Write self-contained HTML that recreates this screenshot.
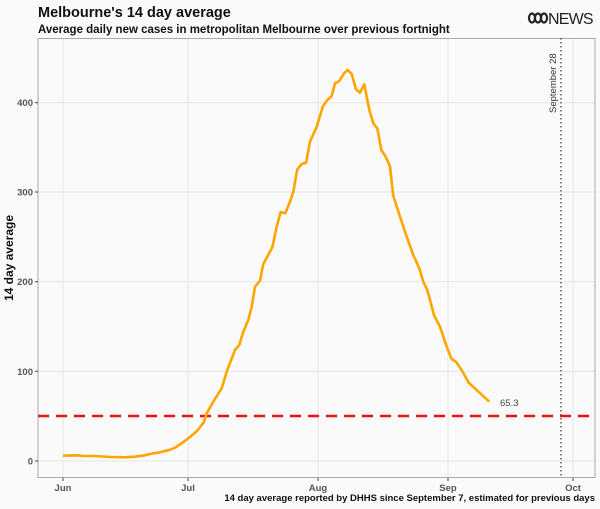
<!DOCTYPE html>
<html><head><meta charset="utf-8"><style>
body{margin:0;background:#fafafa;}
svg{display:block;font-family:"Liberation Sans",Arial,sans-serif;}
</style></head><body>
<svg width="600" height="509" viewBox="0 0 600 509">
<rect width="600" height="509" fill="#fafafa"/>
<text x="38" y="17" font-size="14.5" font-weight="bold" fill="#111">Melbourne's 14 day average</text>
<text x="38" y="33" font-size="11.5" font-weight="bold" fill="#111">Average daily new cases in metropolitan Melbourne over previous fortnight</text>
<g fill="none" stroke="#222" stroke-width="2.2">
<ellipse cx="532" cy="18" rx="3" ry="4.5"/><ellipse cx="538" cy="18" rx="3" ry="4.5"/><ellipse cx="544" cy="18" rx="3" ry="4.5"/>
</g>
<text x="548" y="24" font-size="16" fill="#222" letter-spacing="-0.8">NEWS</text>
<g stroke="#e6e6e6" stroke-width="1">
<line x1="38" x2="595" y1="461" y2="461"/><line x1="38" x2="595" y1="371.3" y2="371.3"/>
<line x1="38" x2="595" y1="281.7" y2="281.7"/><line x1="38" x2="595" y1="192" y2="192"/>
<line x1="38" x2="595" y1="102.7" y2="102.7"/>
<line x1="63" x2="63" y1="38" y2="478"/><line x1="188" x2="188" y1="38" y2="478"/>
<line x1="318" x2="318" y1="38" y2="478"/><line x1="448" x2="448" y1="38" y2="478"/>
<line x1="573" x2="573" y1="38" y2="478"/>
</g>
<rect x="38" y="38.5" width="557" height="439" fill="none" stroke="#aaa" stroke-width="1"/>
<g stroke="#444" stroke-width="1">
<line x1="35" x2="38" y1="461" y2="461"/><line x1="35" x2="38" y1="371.3" y2="371.3"/>
<line x1="35" x2="38" y1="281.7" y2="281.7"/><line x1="35" x2="38" y1="192" y2="192"/>
<line x1="35" x2="38" y1="102.7" y2="102.7"/>
<line x1="63" x2="63" y1="478" y2="481"/><line x1="188" x2="188" y1="478" y2="481"/>
<line x1="318" x2="318" y1="478" y2="481"/><line x1="448" x2="448" y1="478" y2="481"/>
<line x1="573" x2="573" y1="478" y2="481"/>
</g>
<g font-size="9.5" font-weight="bold" fill="#555" text-anchor="end">
<text x="33" y="464.5">0</text><text x="33" y="375">100</text><text x="33" y="285">200</text>
<text x="33" y="195.5">300</text><text x="33" y="106">400</text>
</g>
<g font-size="9.5" font-weight="bold" fill="#555" text-anchor="middle">
<text x="63" y="491">Jun</text><text x="188" y="491">Jul</text><text x="318" y="491">Aug</text>
<text x="448" y="491">Sep</text><text x="573" y="491">Oct</text>
</g>
<text transform="translate(13,258) rotate(-90)" font-size="12" font-weight="bold" text-anchor="middle" fill="#111">14 day average</text>
<text x="595" y="501" font-size="9.5" font-weight="bold" text-anchor="end" fill="#111">14 day average reported by DHHS since September 7, estimated for previous days</text>
<line x1="561" x2="561" y1="38" y2="478" stroke="#333" stroke-width="1.2" stroke-dasharray="1.5,2.5"/>
<text transform="translate(556,113) rotate(-90)" font-size="9.5" fill="#333">September 28</text>
<line x1="38" x2="595" y1="416" y2="416" stroke="#ee1111" stroke-width="2.6" stroke-dasharray="11,7"/>
<polyline fill="none" stroke="#ffa500" stroke-width="2.6" stroke-linejoin="round" points="63,455.7 75,455.3 85,456 95,456 110,457 125,457.3 135,456.7 145,455.3 150,454 160,452.3 170,449.7 175,447.7 182,443 190,437 197,431 204,422 206.7,413.3 213.3,401.7 221.7,388.3 226.7,371.7 235,350 239.3,345 243.3,331.7 248.3,320 251.7,306.7 255,286.7 260,280.7 263.3,264 267.3,256.7 272.3,247.3 276.7,226.7 280.7,212 285.3,213.3 290,201.7 293.3,191.7 297.3,169.3 301.7,164 306,162.7 310,141.7 316.7,126.7 322.7,106.7 326.7,100.7 331.7,96 335,83.3 339.3,81 344,73.3 347.7,70 351.7,74 356,89.3 360,92.7 364.3,84.3 369.3,110 373.3,123.3 377.3,128.3 381.3,150 385.7,156.7 390,166.7 393.3,196 400,216.7 406.7,236.7 413.3,255 419.3,268.3 423.3,281.7 427.3,290 434,315 440,326.7 446.7,346.7 451.7,359.3 456,361.7 462.7,371.7 468.7,382.7 489.3,401.7"/>
<text x="500" y="406" font-size="9.5" fill="#444">65.3</text>
</svg>
</body></html>
